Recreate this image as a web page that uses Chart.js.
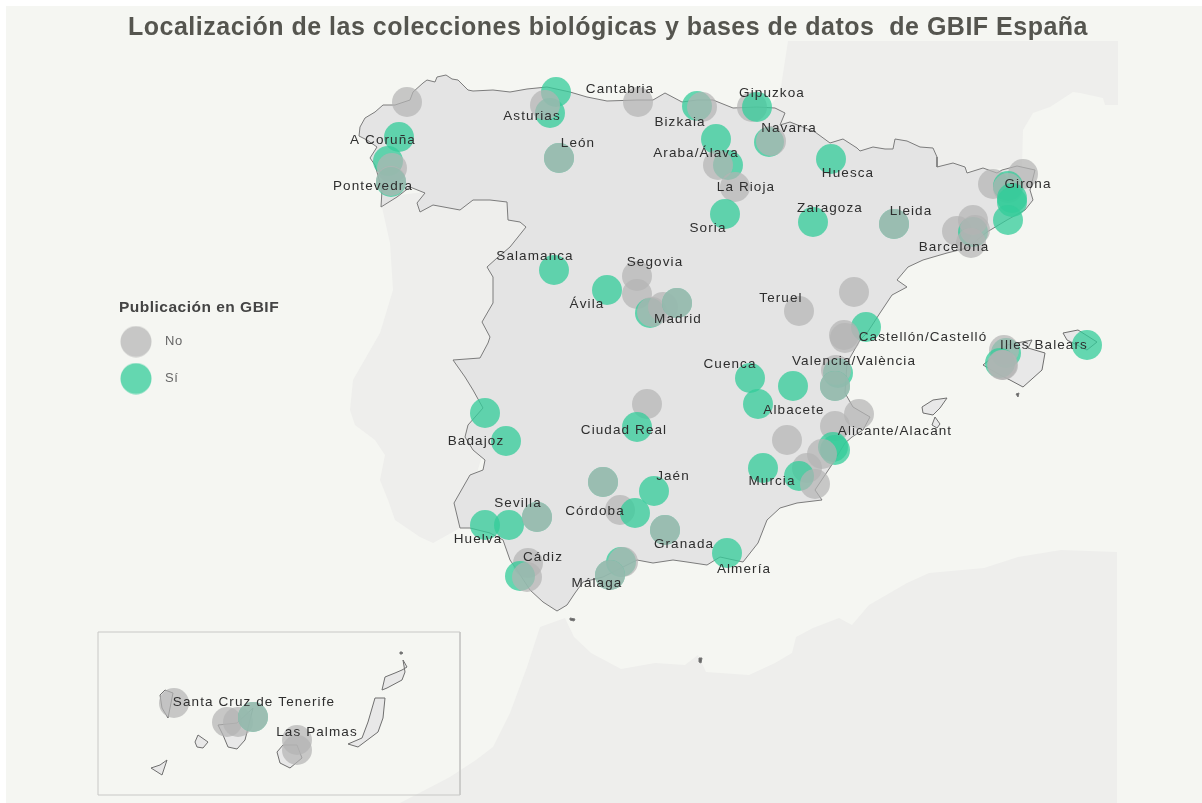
<!DOCTYPE html>
<html lang="es">
<head>
<meta charset="utf-8">
<title>Colecciones GBIF España</title>
<script src="https://cdn.jsdelivr.net/npm/chart.js@4"></script>
<style>
    html, body { margin: 0; padding: 0; background: #ffffff; }
    canvas { display: block; filter: blur(0.45px); }
</style>
</head>
<body>
<canvas id="mapa" width="1202" height="803"></canvas>
<script>
// bubbles, in drawing order
var bubbleX = [407, 399, 388, 392, 391, 391, 556, 550, 545, 638, 697, 702, 559, 559,
    637, 637, 554, 607, 650, 652, 663, 677, 677,
    752, 757, 716, 769, 771, 728, 718, 735, 725, 831, 813, 894, 894, 854, 799,
    866, 844, 845, 1023, 993, 1008, 1008, 1012, 1012, 1008, 957, 973, 973, 975, 971,
    838, 836, 835, 835, 750, 793, 758, 859, 835, 833, 835, 822, 787, 763, 807, 799, 815,
    1006, 1004, 1000, 1003, 1002, 1087,
    485, 506, 647, 637, 603, 603, 654, 620, 635, 665, 665, 485, 509, 537, 537,
    528, 520, 527, 621, 623, 610, 610, 727,
    174, 227, 238, 253, 253, 297, 297];
var bubbleY = [102, 137, 161, 168, 182, 181, 92, 113, 105, 102, 106, 107, 158, 158,
    276, 294, 270, 290, 313, 312, 307, 303, 303,
    107, 107, 139, 142, 141, 165, 165, 187, 214, 159, 222, 224, 224, 292, 311,
    327, 335, 338, 174, 184, 186, 188, 198, 202, 220, 231, 232, 220, 230, 243,
    373, 370, 386, 386, 378, 386, 404, 414, 426, 447, 450, 454, 440, 468, 468, 476, 484,
    353, 350, 363, 365, 365, 345,
    413, 441, 404, 427, 482, 482, 491, 510, 513, 530, 530, 525, 525, 517, 517,
    563, 576, 577, 562, 562, 575, 575, 553,
    703, 722, 722, 717, 717, 740, 750];
// 0 = No, 1 = Sí
var bubbleGroup = [0, 1, 1, 0, 1, 0, 1, 1, 0, 0, 1, 0, 1, 0,
    0, 0, 1, 1, 1, 0, 0, 1, 0,
    0, 1, 1, 1, 0, 1, 0, 0, 1, 1, 1, 1, 0, 0, 0,
    1, 0, 0, 0, 0, 1, 0, 1, 1, 1, 0, 1, 0, 0, 0,
    1, 0, 1, 0, 1, 1, 1, 0, 0, 1, 1, 0, 0, 1, 0, 1, 0,
    1, 0, 1, 0, 0, 1,
    1, 1, 0, 1, 1, 0, 1, 0, 1, 1, 0, 1, 1, 1, 0,
    0, 1, 0, 1, 0, 1, 0, 1,
    0, 0, 0, 1, 0, 0, 0];

var groupNames = ["No", "Sí"];
var groupColors = ["rgba(180,180,180,0.7)", "rgba(51,204,153,0.75)"];

var provinceNames = ["A Coruña", "Pontevedra", "Asturias", "Cantabria", "León", "Bizkaia", "Gipuzkoa", "Navarra",
    "Araba/Álava", "La Rioja", "Huesca", "Girona", "Lleida", "Zaragoza", "Soria", "Barcelona", "Salamanca",
    "Segovia", "Ávila", "Madrid", "Teruel", "Castellón/Castelló", "Illes Balears", "Cuenca", "Valencia/València",
    "Albacete", "Alicante/Alacant", "Ciudad Real", "Badajoz", "Jaén", "Murcia", "Córdoba", "Sevilla", "Huelva",
    "Cádiz", "Granada", "Almería", "Málaga", "Santa Cruz de Tenerife", "Las Palmas"];
var provinceX = [383, 373, 532, 620, 578, 680, 772, 789, 696, 746, 848, 1028, 911, 830, 708, 954, 535, 655, 587, 678,
    781, 923, 1044, 730, 854, 794, 895, 624, 476, 673, 772, 595, 518, 478, 543, 684, 744, 597, 254, 317];
var provinceY = [140, 186, 116, 89, 143, 122, 93, 128, 153, 187, 173, 184, 211, 208, 228, 247, 256, 262, 304, 319,
    298, 337, 345, 364, 361, 410, 431, 430, 441, 476, 481, 511, 503, 539, 557, 544, 569, 583, 702, 732];

// base map outlines
var mainland = [[381, 207], [382, 190], [375, 165], [370, 158], [377, 147], [367, 140], [359, 136], [360, 127], [365, 118],
    [375, 112], [383, 105], [395, 105], [410, 100], [413, 92], [423, 83], [427, 80], [435, 82], [437, 77], [446, 75],
    [452, 79], [458, 80], [468, 90], [473, 91], [493, 90], [510, 92], [527, 89], [547, 87], [570, 92], [587, 97],
    [607, 101], [637, 100], [653, 100], [665, 93], [682, 102],
    [697, 100], [713, 100], [733, 108], [757, 107], [775, 108], [785, 113], [780, 125], [790, 122], [815, 132],
    [830, 143], [843, 139], [857, 148], [860, 151], [873, 147], [885, 149], [893, 149], [895, 139], [907, 141],
    [920, 147], [933, 148], [937, 157], [937, 167], [953, 163], [965, 167], [967, 173], [983, 168], [997, 173],
    [1002, 170], [1017, 166], [1035, 170], [1030, 190], [1033, 200],
    [1025, 210], [1007, 220], [987, 232], [967, 248], [947, 253], [923, 260], [908, 267], [897, 280], [907, 287],
    [892, 295], [880, 313], [867, 333], [860, 340], [847, 363], [845, 393], [853, 407], [870, 417], [863, 430],
    [852, 437], [845, 443], [833, 463], [815, 490], [822, 500], [797, 503], [780, 508], [767, 520], [758, 543],
    [743, 562], [720, 557], [707, 565], [687, 562], [673, 560], [653, 563], [637, 560], [603, 577], [583, 582], [575, 593], [567, 605],
    [557, 611], [543, 602], [530, 590], [517, 570], [510, 560], [503, 540], [490, 533], [470, 528], [460, 528],
    [454, 503], [470, 475], [483, 470], [485, 460], [473, 450], [465, 437], [468, 425], [483, 408], [473, 390],
    [465, 377], [453, 360], [480, 358], [488, 343], [490, 337], [482, 322], [493, 303], [493, 277], [487, 267],
    [497, 258], [510, 247], [526, 227], [520, 222], [508, 220], [507, 202], [490, 200], [473, 200], [460, 210],
    [433, 205], [420, 212], [417, 203], [425, 193], [410, 187], [397, 197], [381, 207]];
var mallorca = [[983, 365], [1007, 345], [1032, 340], [1028, 348], [1045, 353], [1042, 370], [1023, 387], [1010, 380], [1000, 375], [983, 365]];
var menorca = [[1063, 333], [1078, 330], [1097, 342], [1087, 350], [1067, 340], [1063, 333]];
var ibiza = [[922, 407], [933, 400], [947, 398], [940, 408], [933, 415], [923, 413], [922, 407]];
var formentera = [[935, 417], [940, 424], [937, 428], [932, 425], [935, 417]];
var laPalma = [[160, 695], [165, 690], [173, 693], [168, 718], [162, 708], [160, 695]];
var gomera = [[195, 742], [198, 735], [208, 742], [203, 748], [197, 747], [195, 742]];
var hierro = [[151, 768], [160, 765], [167, 760], [162, 775], [151, 768]];
var tenerife = [[218, 725], [237, 723], [253, 708], [245, 740], [237, 749], [228, 747], [223, 735], [218, 725]];
var granCanaria = [[277, 752], [283, 745], [297, 745], [302, 758], [290, 768], [280, 763], [277, 752]];
var fuerteventura = [[348, 744], [362, 738], [368, 722], [375, 698], [385, 698], [383, 718], [378, 732], [358, 747], [348, 744]];
var lanzarote = [[382, 690], [385, 677], [395, 673], [402, 670], [407, 667], [403, 660], [405, 672], [402, 680], [387, 688], [382, 690]];
var islands = [mallorca, menorca, ibiza, formentera, laPalma, gomera, hierro, tenerife, granCanaria, fuerteventura, lanzarote];

// very small islets and the two enclaves
var cabrera = [[1016, 394], [1019, 393], [1018, 397], [1016, 394]];
var alegranza = [[400, 652], [402, 652], [402, 654], [400, 654], [400, 652]];
var ceuta = [[570, 618], [575, 619], [574, 621], [570, 620], [570, 618]];
var melilla = [[699, 658], [702, 658], [701, 663], [699, 662], [699, 658]];
var islets = [cabrera, alegranza, ceuta, melilla];

var portugal = [[382, 207], [390, 243], [393, 290], [380, 333], [353, 380], [350, 410], [355, 425], [375, 440], [385, 455],
    [380, 480], [388, 500], [395, 520], [420, 537], [433, 543], [460, 528], [530, 300], [530, 190], [440, 190], [400, 195], [382, 207]];
var france = [[788, 41], [1118, 41], [1118, 105], [1105, 105], [1103, 98], [1080, 93], [1073, 92], [1050, 107], [1033, 113],
    [1023, 130], [1022, 167], [900, 175], [760, 120], [780, 93], [788, 41]];
var africa = [[400, 803], [450, 777], [476, 760], [493, 747], [510, 713], [527, 667], [540, 627], [565, 618], [574, 637],
    [591, 653], [621, 669], [655, 663], [685, 665], [698, 655], [706, 672], [749, 675], [775, 663], [792, 653], [796, 637],
    [813, 628], [839, 618], [852, 625], [869, 605], [907, 583], [929, 573], [984, 568], [1018, 557], [1061, 550], [1117, 552],
    [1117, 803], [400, 803]];
var insetBox = [[98, 632], [460, 632], [460, 795], [98, 795], [98, 632]];

function toPoints(list) {
    return list.map(function (p) { return { x: p[0], y: p[1] }; });
}
function shapeDataset(list, fillColor, lineColor, order) {
    return {
        type: "line",
        data: toPoints(list),
        fill: "shape",
        backgroundColor: fillColor,
        borderColor: lineColor,
        borderWidth: lineColor == "transparent" ? 0 : 1,
        pointRadius: 0,
        tension: 0,
        order: order
    };
}
function legendDot(color) {
    var dot = document.createElement("canvas");
    dot.width = 32;
    dot.height = 32;
    var c = dot.getContext("2d");
    c.fillStyle = color;
    c.beginPath();
    c.arc(16, 16, 15.5, 0, Math.PI * 2);
    c.fill();
    return dot;
}

var datasets = [];
datasets.push({
    type: "bubble",
    data: bubbleX.map(function (x, i) { return { x: x, y: bubbleY[i], r: 15 }; }),
    backgroundColor: bubbleGroup.map(function (g) { return groupColors[g]; }),
    borderWidth: 0,
    order: 0
});
datasets.push(shapeDataset(mainland, "#e4e4e4", "#7c7c7c", 1));
islands.forEach(function (island) {
    datasets.push(shapeDataset(island, "#e8e8e8", "#6f6f6f", 1));
});
islets.forEach(function (islet) {
    datasets.push(shapeDataset(islet, "#666666", "#777777", 1));
});
datasets.push(shapeDataset(insetBox, "rgba(0,0,0,0)", "#c8c8c6", 2));
datasets.push(shapeDataset(portugal, "#eeeeec", "transparent", 3));
datasets.push(shapeDataset(france, "#eeeeec", "transparent", 3));
datasets.push(shapeDataset(africa, "#eeeeec", "transparent", 4));

var mapPlugin = {
    id: "mapPlugin",
    afterLayout: function (chart) {
        // the legend floats over the empty left side of the map
        var legend = chart.legend;
        legend.left = 89.5;
        legend.right = 308.5;
        legend.width = 219;
        legend.top = 300;
        legend.bottom = 420;
        legend.height = 120;
        chart.titleBlock.left = 14;
    },
    beforeDraw: function (chart) {
        var ctx = chart.ctx;
        ctx.fillStyle = "#f5f6f2";
        ctx.fillRect(6, 6, 1196, 797);
        ctx.letterSpacing = "0.5px";
    },
    afterDatasetsDraw: function (chart) {
        var ctx = chart.ctx;
        var x = chart.scales.x;
        var y = chart.scales.y;
        ctx.save();
        ctx.font = "13.5px 'Liberation Sans'";
        ctx.letterSpacing = "1.1px";
        ctx.fillStyle = "#2e2e2e";
        ctx.textAlign = "center";
        ctx.textBaseline = "middle";
        provinceNames.forEach(function (name, i) {
            ctx.fillText(name, x.getPixelForValue(provinceX[i]), y.getPixelForValue(provinceY[i]));
        });
        ctx.restore();
    }
};

new Chart(document.getElementById("mapa"), {
    data: { datasets: datasets },
    options: {
        responsive: false,
        animation: false,
        events: [],
        layout: { padding: 0, autoPadding: false },
        scales: {
            x: { type: "linear", display: false, min: 0, max: 1202 },
            y: { type: "linear", display: false, min: 41, max: 803, reverse: true }
        },
        plugins: {
            tooltip: { enabled: false },
            title: {
                display: true,
                text: "Localización de las colecciones biológicas y bases de datos  de GBIF España",
                color: "#55554f",
                font: { family: "'Liberation Sans'", size: 25, weight: "bold", lineHeight: 1.2 },
                padding: { top: 13, bottom: -2 }
            },
            legend: {
                position: "chartArea",
                align: "start",
                title: {
                    display: true,
                    text: "Publicación en GBIF",
                    color: "#444444",
                    position: "center",
                    font: { family: "'Liberation Sans'", size: 15.5, weight: "bold" },
                    padding: { top: 0, bottom: -7.5 }
                },
                labels: {
                    usePointStyle: true,
                    pointStyleWidth: 45,
                    padding: 24,
                    color: "#666666",
                    font: { family: "'Liberation Sans'", size: 13 },
                    generateLabels: function () {
                        return groupNames.map(function (name, i) {
                            return {
                                text: name,
                                pointStyle: legendDot(groupColors[i]),
                                fontColor: "#666666",
                                hidden: false,
                                lineWidth: 0
                            };
                        });
                    }
                }
            }
        }
    },
    plugins: [mapPlugin]
});
</script>
</body>
</html>
